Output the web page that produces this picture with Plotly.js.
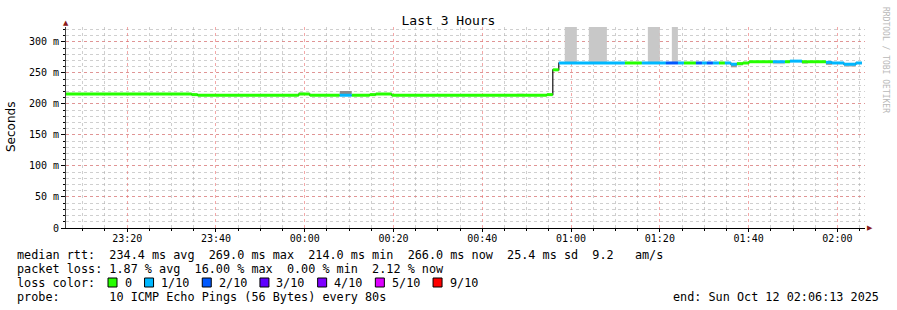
<!DOCTYPE html>
<html><head><meta charset="utf-8">
<script src="https://cdn.plot.ly/plotly-3.0.1.min.js"></script>
<style>html,body{margin:0;padding:0;background:#fff}#chart{width:897px;height:310px}</style>
</head><body><div id="chart"></div>
<script>
// ---- median RTT segments (ms) with lost pings out of 10 ----
const segStart  = ['23:06:13','23:34:32','23:35:53','23:58:39','00:01:08','00:07:53','00:10:35','00:14:39','00:16:00','00:19:36','00:54:32','00:55:53','00:57:14','01:12:07','01:15:56','01:21:21','01:24:04','01:25:25','01:28:07','01:29:28','01:30:35','01:31:56','01:33:18','01:34:39','01:36:00','01:37:21','01:38:42','01:40:04','01:45:28','01:48:10','01:49:18','01:52:00','01:53:21','01:57:25','01:58:46','02:01:28','02:04:10'];
const segEnd    = ['23:34:32','23:35:53','23:58:39','00:01:08','00:07:53','00:10:35','00:14:39','00:16:00','00:19:36','00:54:32','00:55:53','00:57:14','01:12:07','01:15:56','01:21:21','01:24:04','01:25:25','01:28:07','01:29:28','01:30:35','01:31:56','01:33:18','01:34:39','01:36:00','01:37:21','01:38:42','01:40:04','01:45:28','01:48:10','01:49:18','01:52:00','01:53:21','01:57:25','01:58:46','02:01:28','02:04:10','02:05:31'];
const segMedian = [216,215,214,216,214,214,214,215,216,214,215,255,266,266,266,266,266,266,266,266,266,266,266,266,264,265,266,268,268,268,269,268,268,267,266,264,266];
const segLoss   = [0,0,0,0,0,1,0,0,0,0,0,0,1,0,1,2,1,0,2,1,2,1,0,1,1,0,0,0,1,0,1,0,0,1,1,1,1];

// ---- smoke (spread of individual pings, ms) ----
const smokeStart = ['23:58:39','00:07:53','00:47:47','00:58:35','01:04:00','01:17:18','01:22:42','01:36:00','01:37:21','01:45:28','01:52:00','01:57:25','02:01:28'];
const smokeEnd   = ['00:00:00','00:10:35','00:49:20','01:01:18','01:08:04','01:20:00','01:24:04','01:37:21','01:38:42','01:48:10','01:53:21','01:58:46','02:04:10'];
const smokeLo    = [216,216,215,266,266,266,266,259,262,264,265,263,260];
const smokeHi    = [219,221,217,340,340,340,340,264,265,268,268,267,264];
const smokeShade = ['#d2d2d2','#8a8a8a','#d2d2d2','#c8c8c8','#c8c8c8','#c8c8c8','#c8c8c8','#9a9a9a','#c4c4c4','#cfcfcf','#a8a8a8','#8a8a8a','#b8b8b8'];

// ---- loss colour legend ----
const lossLevels = [0,1,2,3,4,5,9];
const lossLabels = ['0','1/10','2/10','3/10','4/10','5/10','9/10'];
const lossColors = ['#26ff00','#00b8ff','#0059ff','#5e00ff','#7e00ff','#dd00ff','#ff0000'];

// ---- axis ticks ----
const yTickVals = [0,50,100,150,200,250,300];
const yTickText = ['0','50 m','100 m','150 m','200 m','250 m','300 m'];

// ---- text ----
const titleText = 'Last 3 Hours';
const yTitle = 'Seconds';
const statsLines = [
  'median rtt:  234.4 ms avg  269.0 ms max  214.0 ms min  266.0 ms now  25.4 ms sd  9.2   am/s',
  'packet loss: 1.87 % avg  16.00 % max  0.00 % min  2.12 % now'
];
const lossTitle = 'loss color:';
const probeLine = 'probe:       10 ICMP Echo Pings (56 Bytes) every 80s';
const endLine = 'end: Sun Oct 12 02:06:13 2025';
const watermark = 'RRDTOOL / TOBI OETIKER';

function toDate(hms){ const h = +hms.slice(0,2); return (h >= 12 ? '2025-10-11 ' : '2025-10-12 ') + hms; }

const traces = [];
const shades = [...new Set(smokeShade)];
shades.forEach(sh => {
  const xs = [], ys = [];
  smokeStart.forEach((s,i) => {
    if (smokeShade[i] !== sh) return;
    const a = toDate(s), b = toDate(smokeEnd[i]);
    xs.push(a,b,b,a,a,null); ys.push(smokeLo[i],smokeLo[i],smokeHi[i],smokeHi[i],smokeLo[i],null);
  });
  traces.push({x:xs,y:ys,mode:'lines',fill:'toself',fillcolor:sh,line:{width:0,color:sh},hoverinfo:'skip',showlegend:false});
});
traces.push({
  x: segStart.map(toDate).concat([toDate(segEnd[segEnd.length-1])]),
  y: segMedian.concat([segMedian[segMedian.length-1]]),
  mode:'lines', line:{shape:'hv', width:1.2, color:'#111'}, hoverinfo:'skip', showlegend:false
});
lossLevels.forEach((lv,k) => {
  const xs = [], ys = [];
  segStart.forEach((s,i) => {
    if (segLoss[i] !== lv) return;
    xs.push(toDate(s), toDate(segEnd[i]), null); ys.push(segMedian[i], segMedian[i], null);
  });
  if (xs.length) traces.push({x:xs,y:ys,mode:'lines',line:{width:3,color:lossColors[k]},hoverinfo:'skip',showlegend:false});
});

const L=66, R=865, T=27, B=228;
const px = v => (v-L)/(R-L);
const py = v => (B-v)/(B-T);
const mono = 'DejaVu Sans Mono, monospace';
const cw = 7.05;

const annotations = [];
const shapes = [];
function txt(text, x, y, opts){
  annotations.push(Object.assign({text, x:px(x), y:py(y), xref:'paper', yref:'paper', showarrow:false,
    xanchor:'left', yanchor:'middle', font:{family:mono, size:11.8, color:'#000'}}, opts||{}));
}
txt(statsLines[0], 15, 255);
txt(statsLines[1], 15, 268.5);
txt(lossTitle, 15, 282.5);
let bx = 108;
lossLabels.forEach((lab,k) => {
  shapes.push({type:'rect', xref:'paper', yref:'paper', x0:px(bx), x1:px(bx+9), y0:py(287), y1:py(278),
    fillcolor:lossColors[k], line:{color:'#000', width:1}});
  txt(lab, bx+14.5, 282.5);
  bx = bx + 14.5 + lab.length*cw + 15;
});
txt(probeLine, 15, 296.5);
txt(endLine, 881, 296.5, {xanchor:'right'});
txt(yTitle, 11, 127, {xanchor:'center', textangle:-90, font:{family:'DejaVu Sans, sans-serif', size:12, color:'#000'}});
txt(watermark, 886, 60, {xanchor:'center', textangle:90, font:{family:'DejaVu Sans Mono, monospace', size:8, color:'#b8b8b8'}});
txt('▲', 66, 23, {xanchor:'center', font:{family:'DejaVu Sans', size:7, color:'#8b1a1a'}});
txt('▶', 870.5, 228, {xanchor:'center', font:{family:'DejaVu Sans', size:7, color:'#8b1a1a'}});

const majorGrid = 'rgba(235,110,110,0.6)';
const minorGrid = 'rgba(175,175,175,0.6)';

const layout = {
  width:897, height:310,
  margin:{l:L, r:897-R, t:T, b:310-B, pad:0},
  paper_bgcolor:'#fff', plot_bgcolor:'#fff',
  title:{text:titleText, font:{family:mono, size:13, color:'#000'}, x:0.5, xref:'container', y:1-20/310, yref:'container', yanchor:'middle'},
  showlegend:false,
  xaxis:{type:'date', range:[toDate('23:06:13'), toDate('02:06:13')], tick0:toDate('23:20:00'), dtick:20*60*1000,
    tickformat:'%H:%M', tickfont:{family:mono, size:10, color:'#000'}, ticklabelstandoff:-2,
    showgrid:true, gridcolor:majorGrid, griddash:'dot', gridwidth:1,
    minor:{dtick:5*60*1000, tick0:toDate('23:20:00'), showgrid:true, gridcolor:minorGrid, griddash:'dot', ticks:'outside', ticklen:2, tickcolor:'#000'},
    ticks:'outside', ticklen:3, tickcolor:'#000', showline:true, linecolor:'#000', linewidth:1, zeroline:false, fixedrange:true},
  yaxis:{range:[0,324], tickmode:'array', tickvals:yTickVals, ticktext:yTickText,
    tickfont:{family:mono, size:10, color:'#000'},
    showgrid:true, gridcolor:majorGrid, griddash:'dot', gridwidth:1,
    minor:{tickmode:'linear', tick0:0, dtick:10, showgrid:true, gridcolor:minorGrid, griddash:'dot', ticks:'outside', ticklen:2, tickcolor:'#000'},
    ticks:'outside', ticklen:4, tickcolor:'#000', showline:true, linecolor:'#444', linewidth:1, zeroline:false, fixedrange:true},
  annotations, shapes
};
Plotly.newPlot('chart', traces, layout, {staticPlot:true, displayModeBar:false});
</script></body></html>
